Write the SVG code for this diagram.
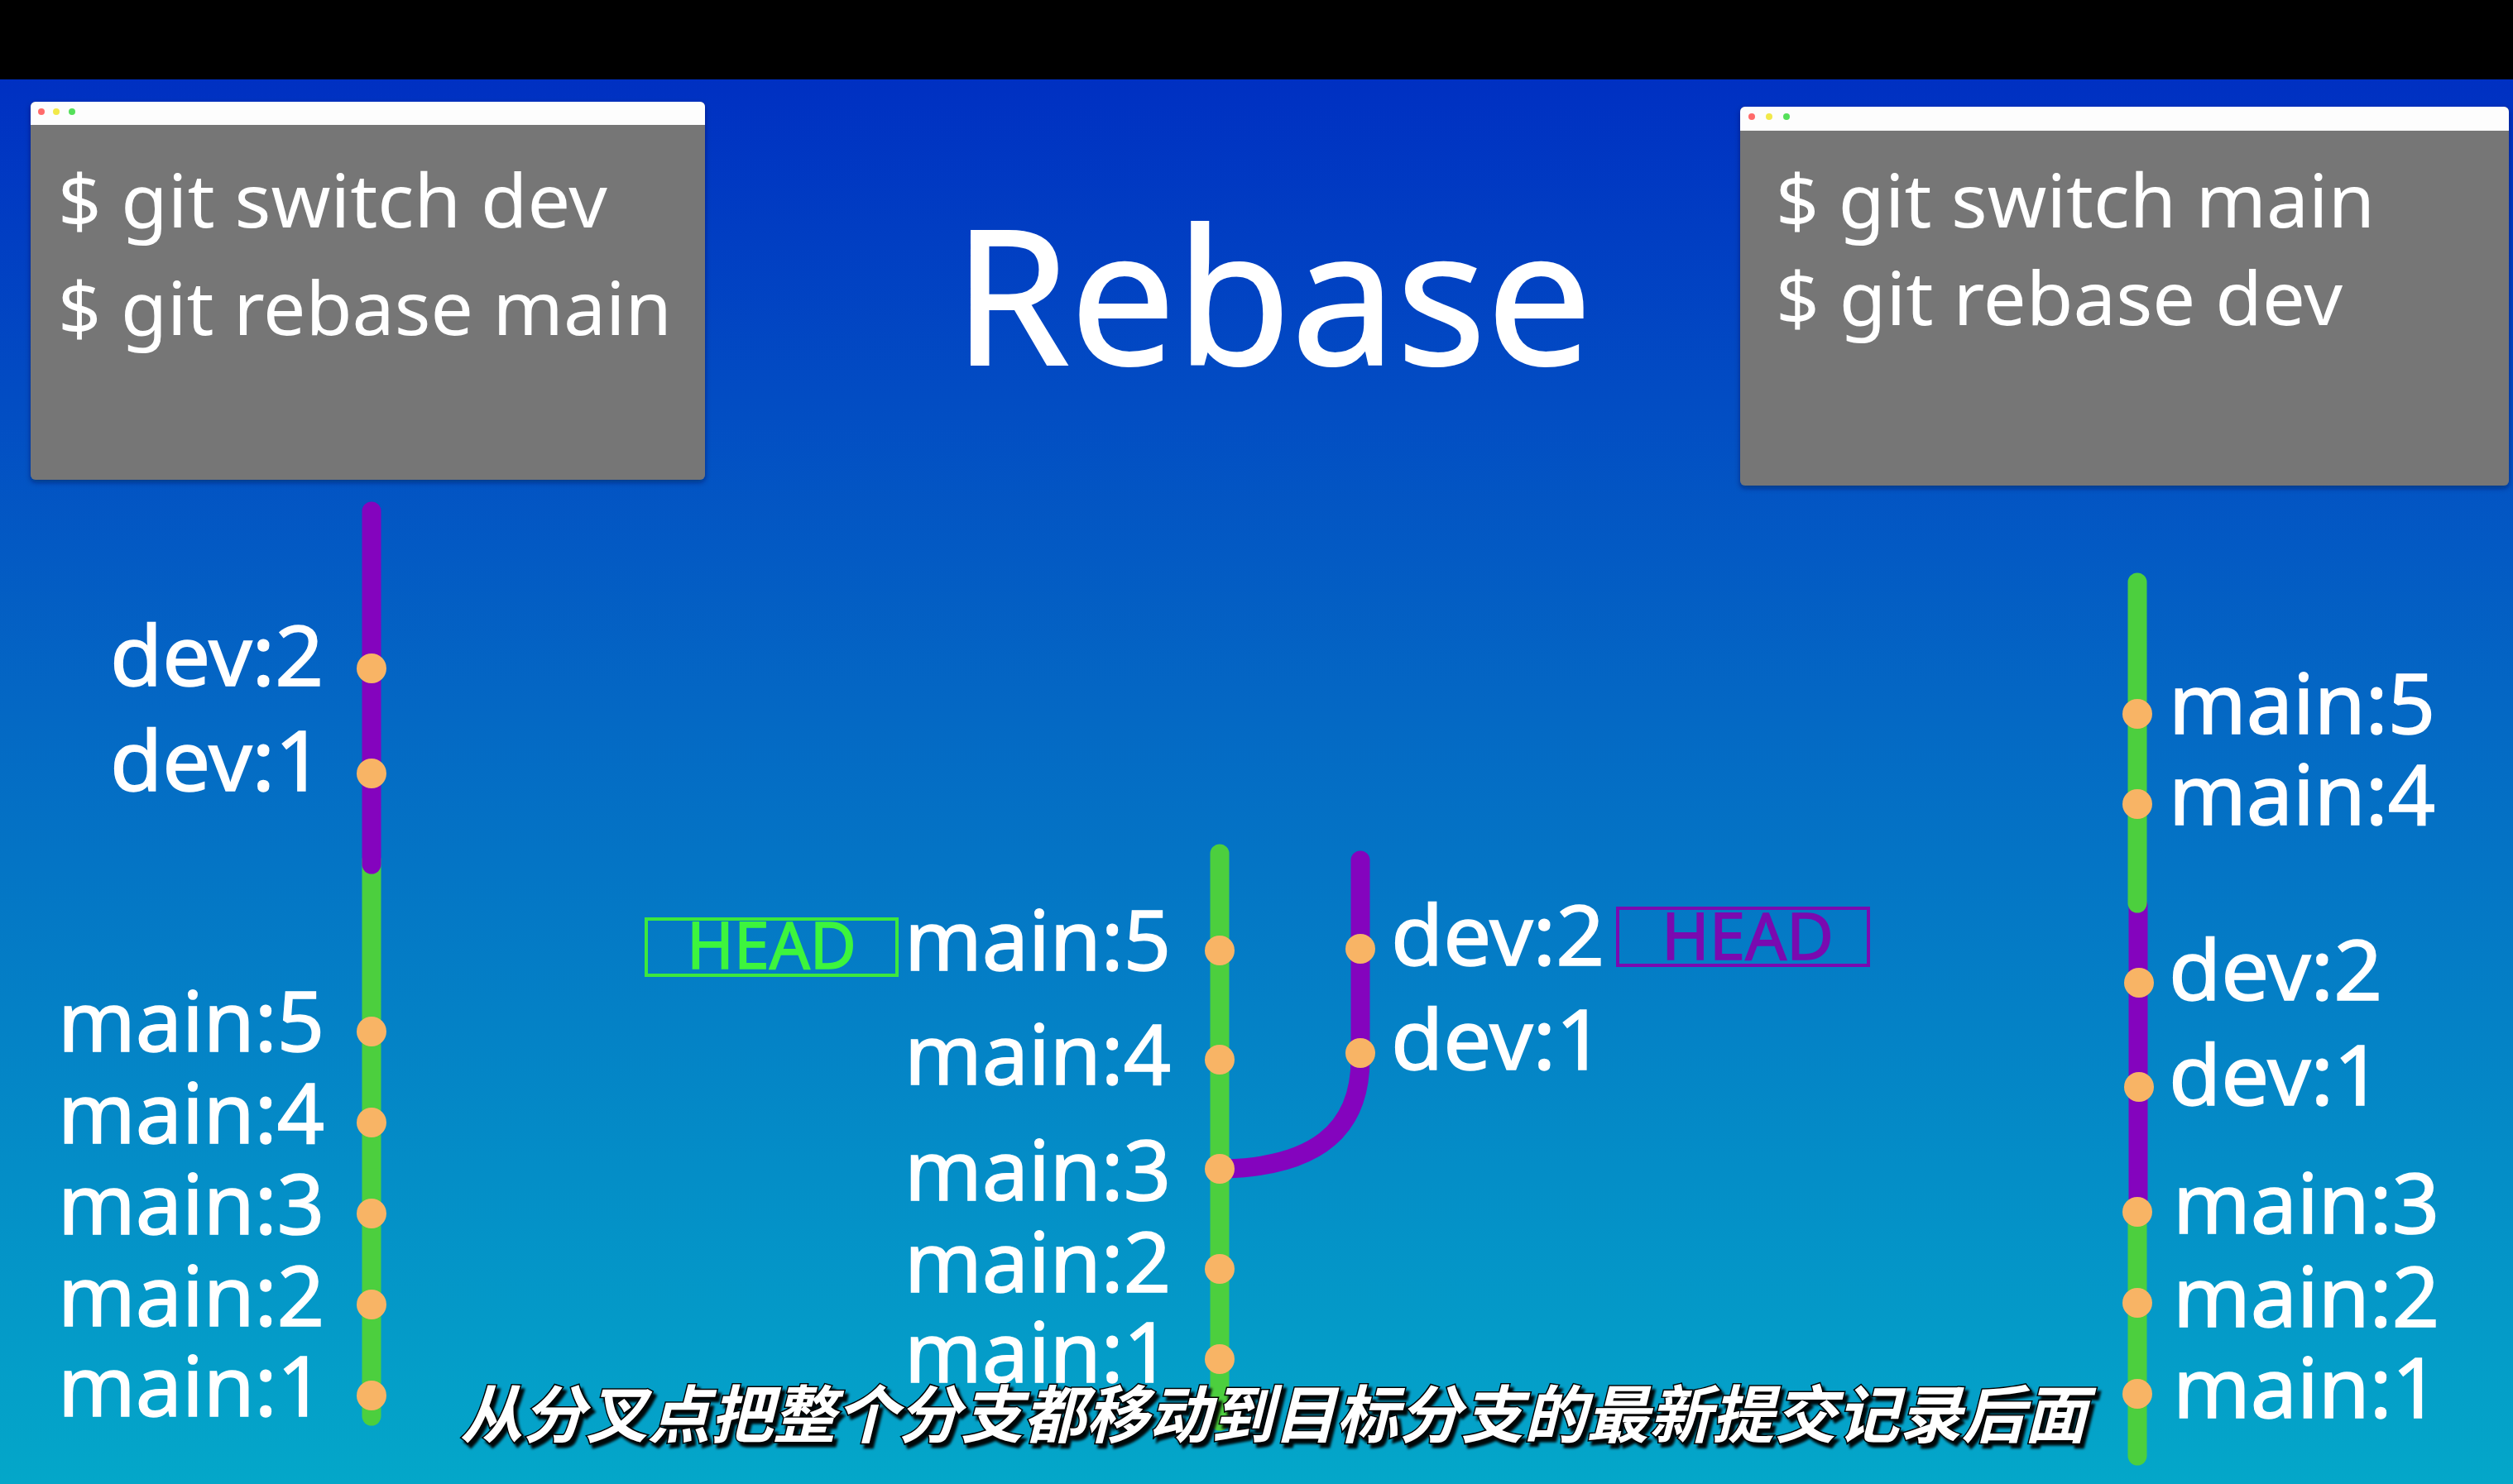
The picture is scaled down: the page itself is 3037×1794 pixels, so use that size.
<svg xmlns="http://www.w3.org/2000/svg" width="3037" height="1794" viewBox="0 0 3037 1794">
<defs>
<linearGradient id="bg" x1="0" y1="96" x2="0" y2="1794" gradientUnits="userSpaceOnUse">
<stop offset="0" stop-color="#0030C2"/>
<stop offset="0.45" stop-color="#0468C4"/>
<stop offset="1" stop-color="#04A7C9"/>
</linearGradient>
<filter id="sh" x="-5%" y="-20%" width="110%" height="150%">
<feDropShadow dx="4" dy="5" stdDeviation="1.5" flood-color="#000" flood-opacity="0.95"/>
</filter>
<filter id="wsh" x="-5%" y="-5%" width="110%" height="110%">
<feDropShadow dx="0" dy="3" stdDeviation="3" flood-color="#001040" flood-opacity="0.5"/>
</filter>
</defs>
<style>
.lbl{font-family:"Noto Sans","Open Sans","Liberation Sans",sans-serif;font-size:100px;fill:#fff;stroke:#fff;stroke-width:1.5}
.cmd{font-family:"Noto Sans","Open Sans","Liberation Sans",sans-serif;font-size:90px;fill:#fff}
.title{font-family:"Noto Sans","Open Sans","Liberation Sans",sans-serif;font-size:226px;fill:#fff;stroke:#fff;stroke-width:2}
.sub{font-family:"Noto Sans CJK SC","Noto Sans",sans-serif;font-size:76px;font-weight:bold;font-style:italic;fill:#fff;stroke:#000;stroke-width:3;paint-order:stroke}
.head{font-family:"Noto Sans","Open Sans","Liberation Sans",sans-serif;font-size:78px;stroke-width:1.5}
.dot{fill:#F8B465}
.gl{stroke:#4CCF3E;stroke-width:23;stroke-linecap:round;fill:none}
.pl{stroke:#8404BE;stroke-width:23;stroke-linecap:round;fill:none}
.win{fill:#767676}
.bar{fill:#FDFDFD}
</style>
<rect x="0" y="0" width="3037" height="1794" fill="url(#bg)"/>
<rect x="0" y="0" width="3037" height="96" fill="#000"/>

<g id="window-left" filter="url(#wsh)">
<rect class="win" x="37" y="123" width="815" height="457" rx="6"/>
<path class="bar" d="M37,151 V129 a6,6 0 0 1 6,-6 H846 a6,6 0 0 1 6,6 V151 Z"/>
<circle cx="50" cy="135" r="4" fill="#FF6B6B"/>
<circle cx="68" cy="135" r="4" fill="#F2E94A"/>
<circle cx="87" cy="135" r="4" fill="#55E05A"/>
<text class="cmd" x="70" y="275" textLength="664" lengthAdjust="spacingAndGlyphs">$ git switch dev</text>
<text class="cmd" x="70" y="405" textLength="742" lengthAdjust="spacingAndGlyphs">$ git rebase main</text>
</g>

<g id="window-right" filter="url(#wsh)">
<rect class="win" x="2103" y="129" width="929" height="458" rx="6"/>
<path class="bar" d="M2103,158 V135 a6,6 0 0 1 6,-6 H3026 a6,6 0 0 1 6,6 V158 Z"/>
<circle cx="2117" cy="141" r="4" fill="#FF6B6B"/>
<circle cx="2138" cy="141" r="4" fill="#F2E94A"/>
<circle cx="2159" cy="141" r="4" fill="#55E05A"/>
<text class="cmd" x="2146" y="275" textLength="724" lengthAdjust="spacingAndGlyphs">$ git switch main</text>
<text class="cmd" x="2146" y="393" textLength="685" lengthAdjust="spacingAndGlyphs">$ git rebase dev</text>
</g>

<g id="title">
<text class="title" x="1152" y="441" textLength="772" lengthAdjust="spacingAndGlyphs">Rebase</text>
</g>

<g id="connectors">
<line class="gl" x1="449" y1="1040" x2="449" y2="1712"/>
<line class="pl" x1="449" y1="618" x2="449" y2="1045"/>
<line class="gl" x1="1474" y1="1032" x2="1474" y2="1718"/>
<path class="pl" d="M1644,1040 V1280 C1644,1370 1585,1410 1480,1413"/>
<line class="gl" x1="2583" y1="1455" x2="2583" y2="1760"/>
<line class="pl" x1="2584" y1="1095" x2="2584" y2="1450"/>
<line class="gl" x1="2583" y1="704" x2="2583" y2="1092"/>
</g>

<g id="left-graph">
<g id="l-dev2"><circle class="dot" cx="449" cy="808" r="18"/><text class="lbl" x="133" y="829" textLength="258" lengthAdjust="spacingAndGlyphs">dev:2</text></g>
<g id="l-dev1"><circle class="dot" cx="449" cy="935" r="18"/><text class="lbl" x="133" y="956" textLength="258" lengthAdjust="spacingAndGlyphs">dev:1</text></g>
<g id="l-main5"><circle class="dot" cx="449" cy="1247" r="18"/><text class="lbl" x="70" y="1271" textLength="322" lengthAdjust="spacingAndGlyphs">main:5</text></g>
<g id="l-main4"><circle class="dot" cx="449" cy="1357" r="18"/><text class="lbl" x="70" y="1382" textLength="322" lengthAdjust="spacingAndGlyphs">main:4</text></g>
<g id="l-main3"><circle class="dot" cx="449" cy="1467" r="18"/><text class="lbl" x="70" y="1492" textLength="322" lengthAdjust="spacingAndGlyphs">main:3</text></g>
<g id="l-main2"><circle class="dot" cx="449" cy="1577" r="18"/><text class="lbl" x="70" y="1603" textLength="322" lengthAdjust="spacingAndGlyphs">main:2</text></g>
<g id="l-main1"><circle class="dot" cx="449" cy="1687" r="18"/><text class="lbl" x="70" y="1712" textLength="322" lengthAdjust="spacingAndGlyphs">main:1</text></g>
</g>

<g id="middle-graph">
<g id="head-main"><rect x="781" y="1111" width="303" height="68" fill="none" stroke="#3DE83D" stroke-width="4"/><text class="head" x="830" y="1171" fill="#3DF53D" stroke="#3DF53D" textLength="205" lengthAdjust="spacingAndGlyphs">HEAD</text></g>
<g id="m-main5"><circle class="dot" cx="1474" cy="1149" r="18"/><text class="lbl" x="1093" y="1173" textLength="322" lengthAdjust="spacingAndGlyphs">main:5</text></g>
<g id="m-main4"><circle class="dot" cx="1474" cy="1281" r="18"/><text class="lbl" x="1093" y="1311" textLength="322" lengthAdjust="spacingAndGlyphs">main:4</text></g>
<g id="m-main3"><circle class="dot" cx="1474" cy="1413" r="18"/><text class="lbl" x="1093" y="1451" textLength="322" lengthAdjust="spacingAndGlyphs">main:3</text></g>
<g id="m-main2"><circle class="dot" cx="1474" cy="1534" r="18"/><text class="lbl" x="1093" y="1562" textLength="322" lengthAdjust="spacingAndGlyphs">main:2</text></g>
<g id="m-main1"><circle class="dot" cx="1474" cy="1643" r="18"/><text class="lbl" x="1093" y="1671" textLength="322" lengthAdjust="spacingAndGlyphs">main:1</text></g>
<g id="m-dev2"><circle class="dot" cx="1644" cy="1147" r="18"/><text class="lbl" x="1681" y="1167" textLength="258" lengthAdjust="spacingAndGlyphs">dev:2</text></g>
<g id="m-dev1"><circle class="dot" cx="1644" cy="1273" r="18"/><text class="lbl" x="1681" y="1293" textLength="258" lengthAdjust="spacingAndGlyphs">dev:1</text></g>
<g id="head-dev"><rect x="1955" y="1098" width="303" height="69" fill="none" stroke="#7A0AB0" stroke-width="4"/><text class="head" x="2008" y="1160" fill="#7A0AB0" stroke="#7A0AB0" textLength="208" lengthAdjust="spacingAndGlyphs">HEAD</text></g>
</g>

<g id="right-graph">
<g id="r-main5"><circle class="dot" cx="2583" cy="863" r="18"/><text class="lbl" x="2621" y="887" textLength="322" lengthAdjust="spacingAndGlyphs">main:5</text></g>
<g id="r-main4"><circle class="dot" cx="2583" cy="972" r="18"/><text class="lbl" x="2621" y="997" textLength="322" lengthAdjust="spacingAndGlyphs">main:4</text></g>
<g id="r-dev2"><circle class="dot" cx="2585" cy="1188" r="18"/><text class="lbl" x="2621" y="1209" textLength="258" lengthAdjust="spacingAndGlyphs">dev:2</text></g>
<g id="r-dev1"><circle class="dot" cx="2585" cy="1314" r="18"/><text class="lbl" x="2621" y="1336" textLength="258" lengthAdjust="spacingAndGlyphs">dev:1</text></g>
<g id="r-main3"><circle class="dot" cx="2583" cy="1465" r="18"/><text class="lbl" x="2626" y="1491" textLength="322" lengthAdjust="spacingAndGlyphs">main:3</text></g>
<g id="r-main2"><circle class="dot" cx="2583" cy="1575" r="18"/><text class="lbl" x="2626" y="1604" textLength="322" lengthAdjust="spacingAndGlyphs">main:2</text></g>
<g id="r-main1"><circle class="dot" cx="2583" cy="1685" r="18"/><text class="lbl" x="2626" y="1714" textLength="322" lengthAdjust="spacingAndGlyphs">main:1</text></g>
</g>

<g id="subtitle">
<text class="sub" x="556" y="1738" textLength="1966" lengthAdjust="spacingAndGlyphs" filter="url(#sh)">从分叉点把整个分支都移动到目标分支的最新提交记录后面</text>
</g>
</svg>
